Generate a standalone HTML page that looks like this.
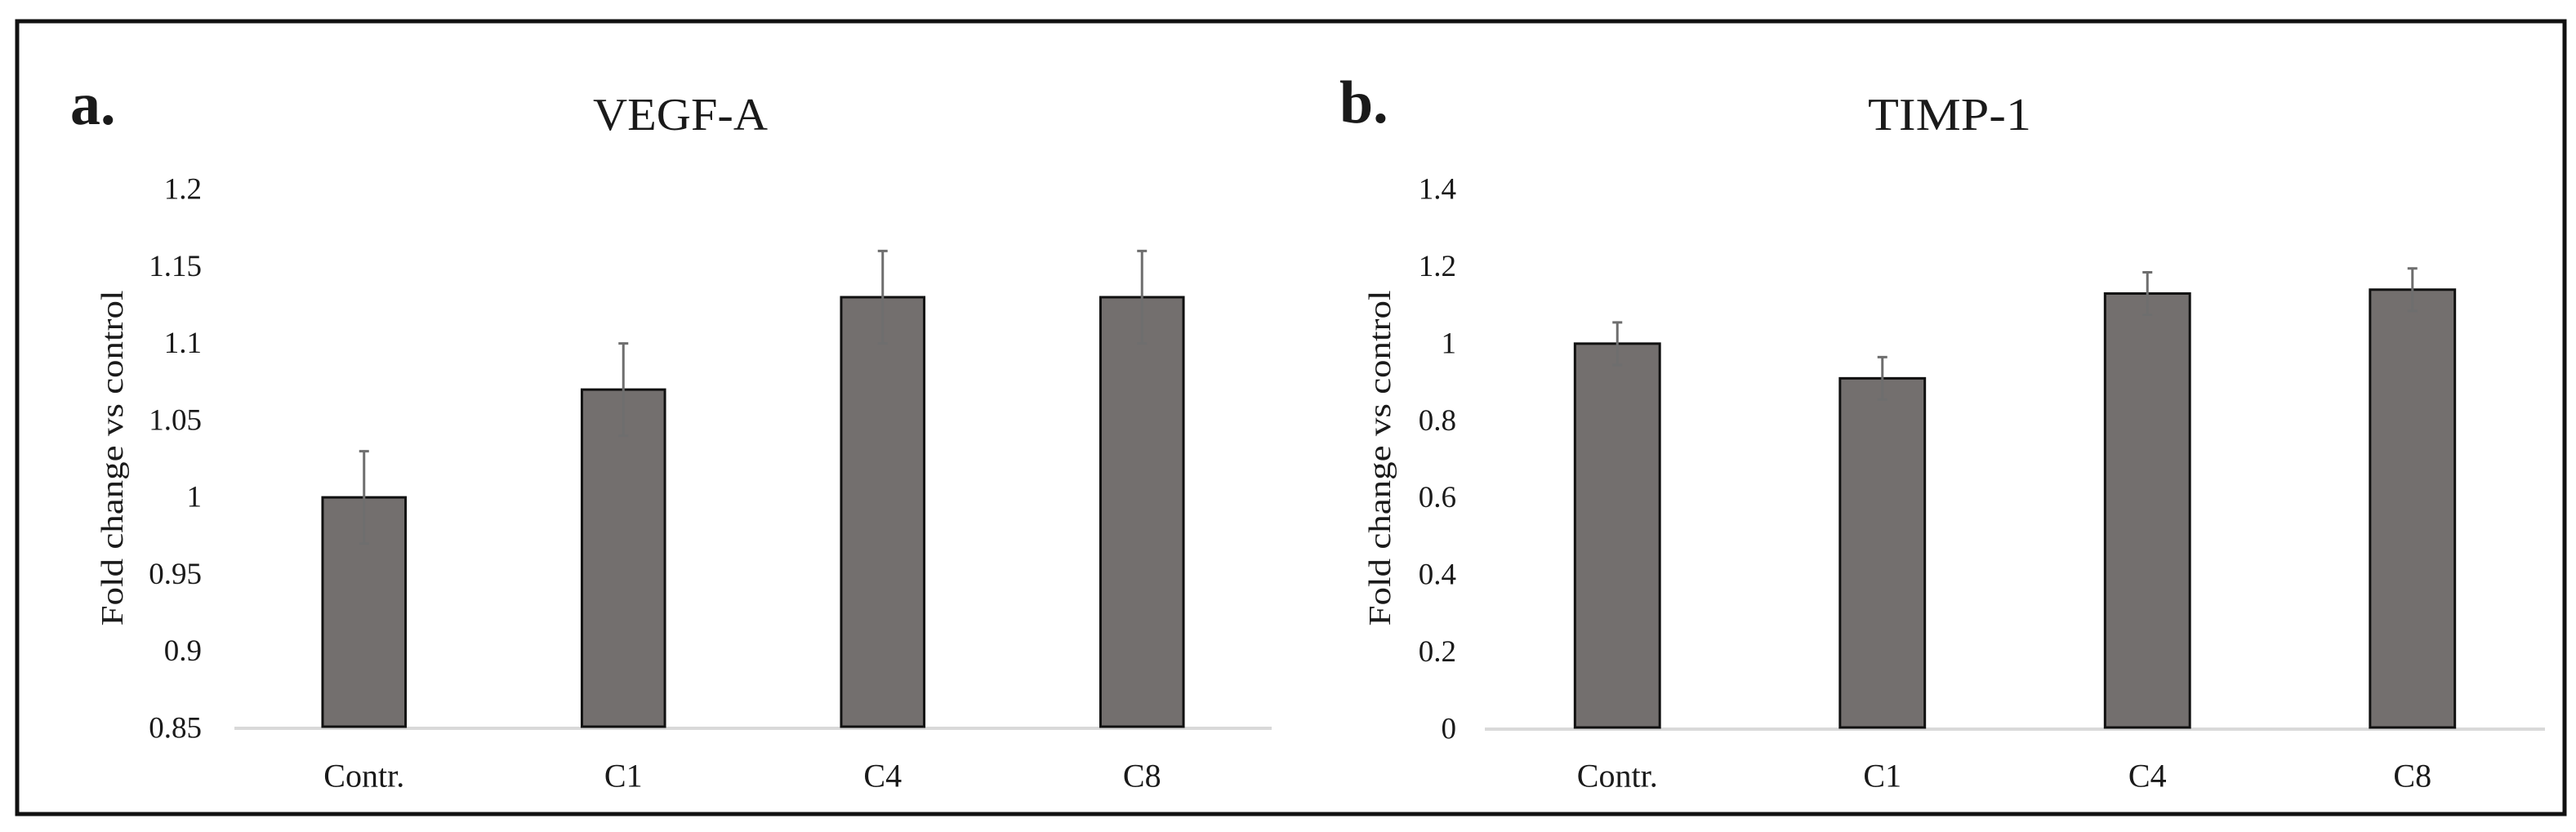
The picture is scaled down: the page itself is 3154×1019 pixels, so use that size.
<!DOCTYPE html>
<html><head><meta charset="utf-8"><style>
html,body{margin:0;padding:0;background:#fff;}
svg{display:block;}
text{font-family:"Liberation Serif",serif;fill:#1a1a1a;}
</style></head><body>
<svg id="fig" width="3154" height="1019" viewBox="0 0 3154 1019" xmlns="http://www.w3.org/2000/svg">
<rect x="21" y="26" width="3119" height="971" fill="#fff" stroke="#111" stroke-width="5"/>
<text x="86" y="152" font-size="74" font-weight="bold">a.</text>
<text x="1640" y="150" font-size="74" font-weight="bold">b.</text>
<g id="panelA"></g>
<g id="panelB"></g>
</svg>
<script>
const categories = ["Contr.", "C1", "C4", "C8"];
const vegfValues = [1.00, 1.07, 1.13, 1.13];
const vegfErrors = [0.03, 0.03, 0.03, 0.03];
const vegfTicks = [0.85, 0.9, 0.95, 1, 1.05, 1.1, 1.15, 1.2];
const vegfTickLabels = ["0.85", "0.9", "0.95", "1", "1.05", "1.1", "1.15", "1.2"];
const timpValues = [1.00, 0.91, 1.13, 1.14];
const timpErrors = [0.055, 0.055, 0.055, 0.055];
const timpTicks = [0, 0.2, 0.4, 0.6, 0.8, 1, 1.2, 1.4];
const timpTickLabels = ["0", "0.2", "0.4", "0.6", "0.8", "1", "1.2", "1.4"];

const NS = "http://www.w3.org/2000/svg";
function mk(parent, tag, attrs, txt) {
  const e = document.createElementNS(NS, tag);
  for (const k in attrs) e.setAttribute(k, attrs[k]);
  if (txt !== undefined) e.textContent = txt;
  parent.appendChild(e);
  return e;
}

function drawPanel(g, cfg, values, errors, ticks, tickLabels) {
  const yMin = ticks[0], yMax = ticks[ticks.length - 1];
  const yScale = v => cfg.bottom - (v - yMin) / (yMax - yMin) * (cfg.bottom - cfg.top);
  const band = (cfg.x1 - cfg.x0) / categories.length;
  const xCenter = i => cfg.x0 + band * (i + 0.5);
  const barW = band * 0.32;

  const title = mk(g, "text", {x: cfg.titleX, y: 159, "font-size": 56, "text-anchor": "middle", textLength: cfg.titleLen, lengthAdjust: "spacingAndGlyphs"}, cfg.title);
  
  

  const yt = mk(g, "text", {x: 0, y: 0, "font-size": 38, "text-anchor": "middle", "dominant-baseline": "central", textLength: 411, lengthAdjust: "spacingAndGlyphs", transform: `translate(${cfg.yTitleX},561) rotate(-90)`}, "Fold change vs control");
  
  

  ticks.forEach((t, i) => {
    const tl = mk(g, "text", {x: cfg.tickRight, y: yScale(t), "font-size": 37, "text-anchor": "end", "dominant-baseline": "central"}, tickLabels[i]);
    
    
  });

  const axis = mk(g, "line", {x1: cfg.x0, x2: cfg.x1, y1: cfg.bottom, y2: cfg.bottom, stroke: "#d9d9d9", "stroke-width": 4});
  
  

  categories.forEach((c, i) => {
    const cx = xCenter(i);
    const top = yScale(values[i]);
    const bar = mk(g, "rect", {x: cx - barW / 2, y: top, width: barW, height: cfg.bottom - top - 2, fill: "#736f6e", stroke: "#111", "stroke-width": 3});
    
    
    const eHi = yScale(values[i] + errors[i]), eLo = yScale(values[i] - errors[i]);
    const eb = mk(g, "path", {d: `M${cx},${eHi}V${eLo}M${cx-6},${eHi}H${cx+6}M${cx-6},${eLo}H${cx+6}`, stroke: "#6e6e6e", "stroke-width": 3, fill: "none"});
    
    
    const cl = mk(g, "text", {x: cx, y: 950, "font-size": 40, "text-anchor": "middle", "dominant-baseline": "central"}, c);
    
    
  });
}

drawPanel(document.getElementById("panelA"),
  {title: "VEGF-A", titleX: 833, titleLen: 214, yTitleX: 138, tickRight: 247, x0: 287, x1: 1557, top: 232, bottom: 892},
  vegfValues, vegfErrors, vegfTicks, vegfTickLabels);
drawPanel(document.getElementById("panelB"),
  {title: "TIMP-1", titleX: 2387, titleLen: 200, yTitleX: 1690, tickRight: 1783, x0: 1818, x1: 3116, top: 232, bottom: 893},
  timpValues, timpErrors, timpTicks, timpTickLabels);
</script>
</body></html>
